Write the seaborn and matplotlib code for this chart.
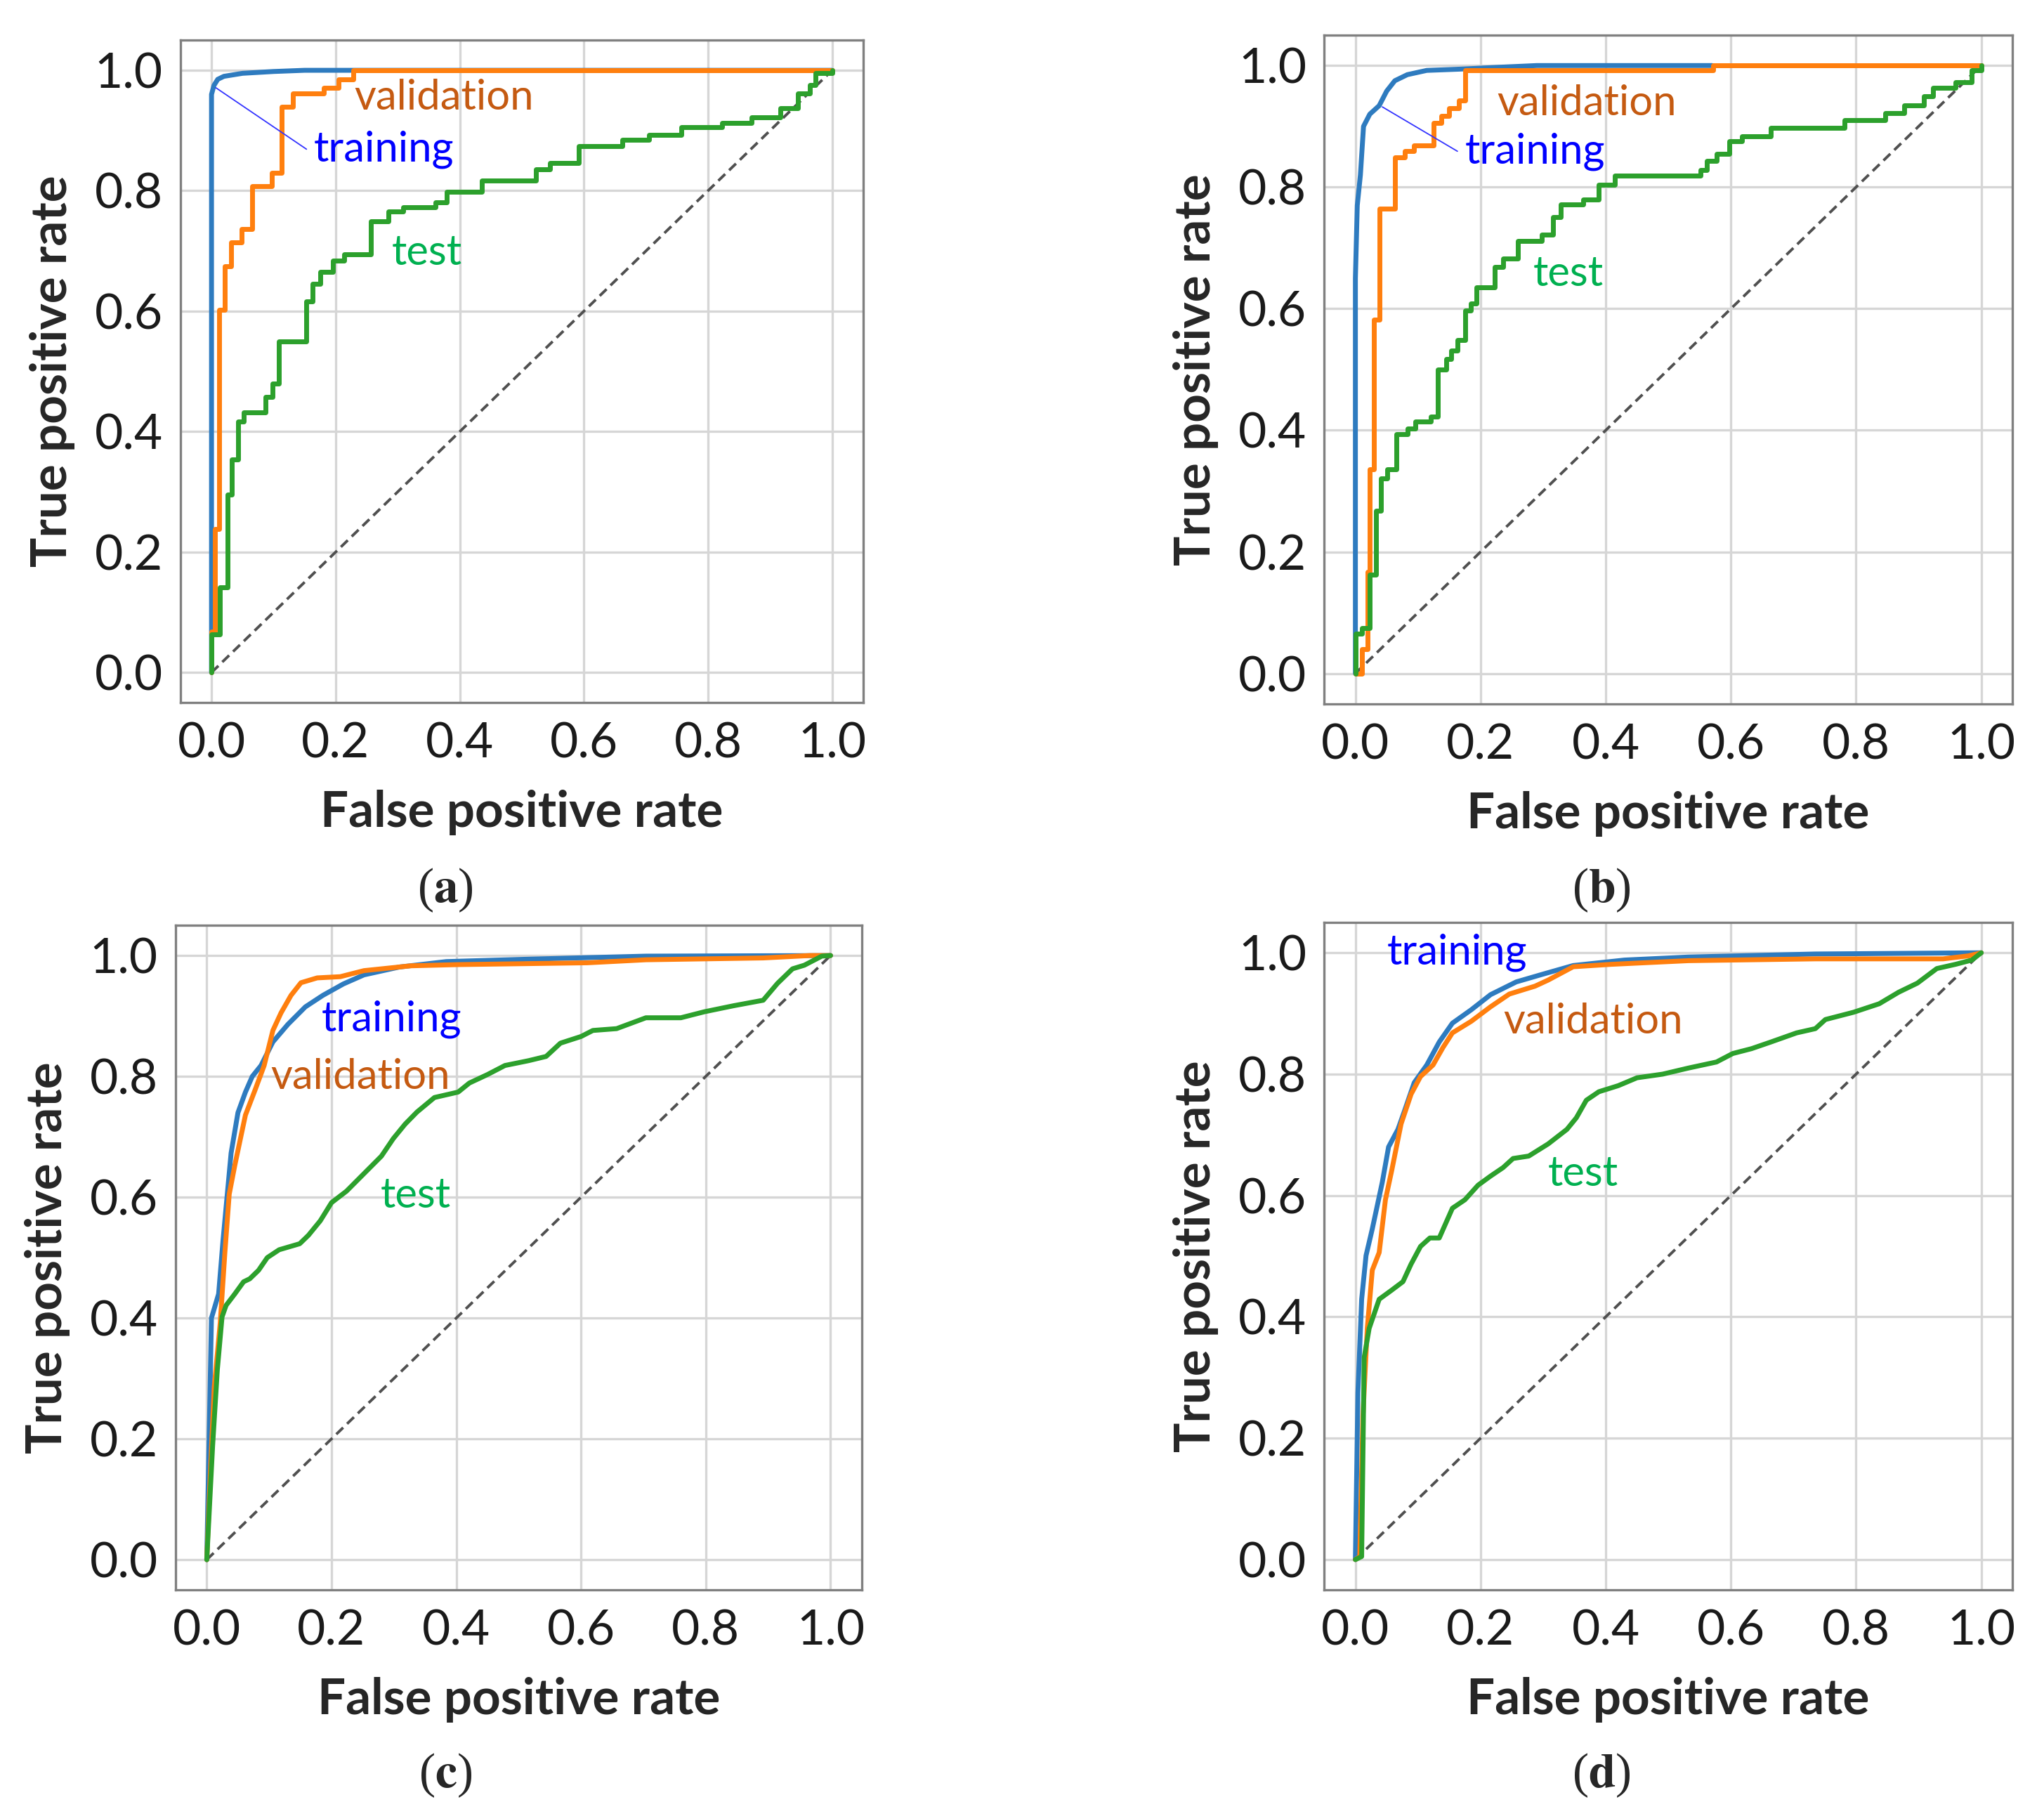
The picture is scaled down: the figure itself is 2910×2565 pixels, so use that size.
import matplotlib
matplotlib.use("Agg")
import matplotlib.pyplot as plt
import seaborn as sns

# --- Data ---
# (a) step curves: points where the curve jumps up (steps-post)
a_train_fpr = [0.0, 0.0, 0.004, 0.01, 0.02, 0.05, 0.10, 0.15, 1.0]
a_train_tpr = [0.0, 0.96, 0.975, 0.985, 0.99, 0.995, 0.998, 1.0, 1.0]
a_val_fpr = [0.0, 0.0, 0.005, 0.012, 0.021, 0.031, 0.049, 0.066, 0.097, 0.113,
             0.131, 0.181, 0.205, 0.229, 1.0]
a_val_tpr = [0.0, 0.068, 0.238, 0.602, 0.675, 0.714, 0.736, 0.808, 0.83, 0.939,
             0.962, 0.971, 0.985, 1.0, 1.0]
a_test_fpr = [0.0, 0.0, 0.013, 0.026, 0.033, 0.043, 0.052, 0.087, 0.098, 0.109,
              0.153, 0.163, 0.175, 0.196, 0.214, 0.257, 0.285, 0.309, 0.361,
              0.379, 0.436, 0.523, 0.545, 0.592, 0.662, 0.705, 0.757, 0.823,
              0.87, 0.917, 0.945, 0.964, 0.973, 1.0]
a_test_tpr = [0.0, 0.063, 0.142, 0.296, 0.354, 0.417, 0.432, 0.458, 0.48, 0.55,
              0.616, 0.645, 0.665, 0.684, 0.694, 0.749, 0.765, 0.772, 0.781,
              0.798, 0.817, 0.835, 0.846, 0.874, 0.885, 0.893, 0.905, 0.913,
              0.922, 0.937, 0.962, 0.976, 0.995, 1.0]

# (b)
b_train_fpr = [0.0, 0.0, 0.003, 0.008, 0.013, 0.023, 0.038, 0.05, 0.063, 0.083,
               0.114, 0.165, 0.226, 0.29, 0.57]
b_train_tpr = [0.0, 0.65, 0.77, 0.82, 0.9, 0.92, 0.934, 0.958, 0.975, 0.985,
               0.992, 0.994, 0.997, 1.0, 1.0]
b_val_fpr = [0.0, 0.01, 0.02, 0.023, 0.03, 0.038, 0.063, 0.079, 0.094, 0.125,
             0.137, 0.15, 0.165, 0.175, 0.572, 1.0]
b_val_tpr = [0.0, 0.04, 0.167, 0.336, 0.582, 0.765, 0.849, 0.859, 0.869, 0.905,
             0.917, 0.93, 0.942, 0.992, 1.0, 1.0]
b_test_fpr = [0.0, 0.0, 0.01, 0.023, 0.033, 0.041, 0.051, 0.065, 0.084, 0.096,
              0.12, 0.132, 0.145, 0.153, 0.163, 0.176, 0.184, 0.194, 0.223,
              0.236, 0.26, 0.298, 0.316, 0.328, 0.364, 0.389, 0.414, 0.552,
              0.562, 0.577, 0.598, 0.618, 0.664, 0.781, 0.847, 0.877, 0.908,
              0.923, 0.959, 0.985, 1.0]
b_test_tpr = [0.0, 0.066, 0.075, 0.162, 0.268, 0.321, 0.336, 0.394, 0.403, 0.415,
              0.423, 0.5, 0.517, 0.531, 0.548, 0.597, 0.608, 0.635, 0.669,
              0.683, 0.712, 0.722, 0.751, 0.772, 0.78, 0.804, 0.819, 0.828,
              0.843, 0.855, 0.875, 0.884, 0.898, 0.91, 0.922, 0.934, 0.949,
              0.963, 0.973, 0.992, 1.0]

# (c) smooth-ish curves
c_train_fpr = [0.0, 0.0075, 0.019, 0.026, 0.039, 0.05, 0.062, 0.073, 0.087, 0.106,
               0.13, 0.158, 0.186, 0.219, 0.252, 0.309, 0.384, 0.516, 0.704, 1.0]
c_train_tpr = [0.0, 0.40, 0.44, 0.528, 0.673, 0.74, 0.774, 0.80, 0.818, 0.857,
               0.886, 0.915, 0.934, 0.953, 0.968, 0.981, 0.99, 0.994, 0.999, 1.0]
c_val_fpr = [0.0, 0.0056, 0.012, 0.0216, 0.029, 0.036, 0.045, 0.055, 0.062, 0.078,
             0.092, 0.106, 0.119, 0.135, 0.151, 0.177, 0.214, 0.252, 0.327,
             0.403, 0.61, 0.704, 0.892, 0.967, 1.0]
c_val_tpr = [0.0, 0.14, 0.286, 0.392, 0.508, 0.605, 0.653, 0.702, 0.736, 0.779,
             0.818, 0.876, 0.905, 0.934, 0.955, 0.963, 0.965, 0.975, 0.983,
             0.985, 0.988, 0.993, 0.996, 1.0, 1.0]
c_test_fpr = [0.0, 0.0094, 0.017, 0.0245, 0.031, 0.045, 0.059, 0.069, 0.083, 0.097,
              0.116, 0.149, 0.163, 0.182, 0.2, 0.224, 0.252, 0.28, 0.299, 0.318,
              0.337, 0.365, 0.403, 0.421, 0.45, 0.478, 0.516, 0.544, 0.567, 0.6,
              0.619, 0.657, 0.704, 0.76, 0.798, 0.845, 0.892, 0.915, 0.939,
              0.958, 0.986, 1.0]
c_test_tpr = [0.0, 0.189, 0.315, 0.402, 0.421, 0.44, 0.46, 0.465, 0.479, 0.5,
              0.513, 0.523, 0.537, 0.561, 0.591, 0.61, 0.639, 0.668, 0.697, 0.721,
              0.741, 0.765, 0.774, 0.789, 0.803, 0.818, 0.826, 0.833, 0.855, 0.866,
              0.876, 0.879, 0.897, 0.897, 0.907, 0.917, 0.926, 0.954, 0.978,
              0.984, 0.999, 1.0]

# (d)
d_train_fpr = [0.0, 0.004, 0.010, 0.017, 0.027, 0.043, 0.053, 0.068, 0.078, 0.094,
               0.114, 0.134, 0.155, 0.185, 0.216, 0.257, 0.297, 0.348, 0.43, 0.532,
               0.735, 1.0]
d_train_tpr = [0.0, 0.275, 0.429, 0.501, 0.545, 0.622, 0.68, 0.709, 0.738, 0.786,
               0.815, 0.853, 0.884, 0.906, 0.931, 0.952, 0.964, 0.979, 0.988, 0.993,
               0.998, 1.0]
d_val_fpr = [0.0, 0.007, 0.012, 0.019, 0.027, 0.038, 0.048, 0.058, 0.073, 0.089,
             0.104, 0.124, 0.14, 0.155, 0.185, 0.216, 0.246, 0.287, 0.308, 0.348,
             0.409, 0.532, 0.735, 0.939, 0.98, 1.0]
d_val_tpr = [0.0, 0.005, 0.236, 0.381, 0.477, 0.506, 0.593, 0.641, 0.718, 0.767,
             0.796, 0.815, 0.844, 0.868, 0.887, 0.911, 0.932, 0.945, 0.955, 0.977,
             0.981, 0.987, 0.99, 0.99, 0.995, 1.0]
d_test_fpr = [0.0, 0.01, 0.014, 0.022, 0.038, 0.058, 0.076, 0.089, 0.104, 0.119,
              0.134, 0.155, 0.175, 0.196, 0.216, 0.236, 0.252, 0.277, 0.308, 0.338,
              0.353, 0.369, 0.389, 0.42, 0.45, 0.491, 0.532, 0.577, 0.603, 0.633,
              0.664, 0.705, 0.735, 0.751, 0.796, 0.837, 0.868, 0.898, 0.929,
              0.959, 0.985, 1.0]
d_test_tpr = [0.0, 0.005, 0.333, 0.381, 0.429, 0.444, 0.458, 0.487, 0.516, 0.53,
              0.53, 0.579, 0.593, 0.617, 0.632, 0.646, 0.661, 0.665, 0.685, 0.709,
              0.728, 0.757, 0.771, 0.781, 0.794, 0.80, 0.81, 0.82, 0.834, 0.842,
              0.853, 0.868, 0.875, 0.89, 0.902, 0.916, 0.935, 0.95, 0.974,
              0.981, 0.988, 1.0]

panel_names = ["a", "b", "c", "d"]
label_pos = {
    "a": {"validation": (0.23, 0.955), "training": (0.165, 0.869), "test": (0.29, 0.697)},
    "b": {"validation": (0.226, 0.938), "training": (0.175, 0.859), "test": (0.284, 0.657)},
    "c": {"validation": (0.102, 0.799), "training": (0.184, 0.895), "test": (0.278, 0.603)},
    "d": {"validation": (0.236, 0.887), "training": (0.051, 1.0), "test": (0.308, 0.636)},
}
pointer_to = {"a": (0.007, 0.971), "b": (0.043, 0.932)}

# --- Style ---
sns.set_style("whitegrid")
plt.rcParams['font.family'] = ['Lato', 'DejaVu Sans']
plt.rcParams['mathtext.fontset'] = 'stix'

LINE_COLORS = {"training": "#2e7bbf", "validation": "#ff7f0e", "test": "#2ca02c"}
TEXT_COLORS = {"training": "#0000ff", "validation": "#c55a11", "test": "#00b050"}

curves = {
    "a": [(a_train_fpr, a_train_tpr, "training", None),
          (a_val_fpr, a_val_tpr, "validation", "steps-post"),
          (a_test_fpr, a_test_tpr, "test", "steps-post")],
    "b": [(b_train_fpr, b_train_tpr, "training", None),
          (b_val_fpr, b_val_tpr, "validation", "steps-post"),
          (b_test_fpr, b_test_tpr, "test", "steps-post")],
    "c": [(c_train_fpr, c_train_tpr, "training", None),
          (c_val_fpr, c_val_tpr, "validation", None),
          (c_test_fpr, c_test_tpr, "test", None)],
    "d": [(d_train_fpr, d_train_tpr, "training", None),
          (d_val_fpr, d_val_tpr, "validation", None),
          (d_test_fpr, d_test_tpr, "test", None)],
}

fig = plt.figure(figsize=(29.1, 25.65), dpi=100)
axes_rects = {
    "a": [0.0883, 0.6101, 0.3340, 0.3676],
    "b": [0.6478, 0.6094, 0.3368, 0.3711],
    "c": [0.0859, 0.1177, 0.3357, 0.3688],
    "d": [0.6478, 0.1177, 0.3368, 0.3704],
}
caption_xy = {"a": (0.218, 0.506), "b": (0.7835, 0.506), "c": (0.218, 0.0148), "d": (0.7835, 0.0148)}

for name in panel_names:
    ax = fig.add_axes(axes_rects[name])
    # diagonal reference
    ax.plot([0, 1], [0, 1], ls=(0, (3.5, 2)), color="#505050", lw=2.8, zorder=1)
    for fpr, tpr, kind, ds in curves[name]:
        kw = {"drawstyle": ds} if ds else {}
        sns.lineplot(x=fpr, y=tpr, ax=ax, sort=False, estimator=None,
                     color=LINE_COLORS[kind], lw=5, zorder=3, **kw)
    for kind, (tx, ty) in label_pos[name].items():
        ax.text(tx, ty, kind, color=TEXT_COLORS[kind], fontsize=43,
                ha="left", va="center", zorder=5)
    if name in pointer_to:
        tx, ty = label_pos[name]["training"]
        ax.annotate("", xy=pointer_to[name], xytext=(tx - 0.012, ty),
                    arrowprops=dict(arrowstyle="-", color="#3333ff", lw=1.3,
                                    shrinkA=0, shrinkB=0), zorder=4)

    ax.set_xlim(-0.05, 1.05)
    ax.set_ylim(-0.05, 1.05)
    ticks = [0.0, 0.2, 0.4, 0.6, 0.8, 1.0]
    ax.set_xticks(ticks)
    ax.set_yticks(ticks)
    ax.set_xticklabels([f"{t:.1f}" for t in ticks])
    ax.set_yticklabels([f"{t:.1f}" for t in ticks])
    ax.tick_params(axis="both", length=0, labelsize=50, colors="#1a1a1a")
    ax.tick_params(axis="x", pad=20)
    ax.tick_params(axis="y", pad=18)
    ax.grid(True, color="#d6d6d6", lw=2.4)
    for sp in ax.spines.values():
        sp.set_color("#808080")
        sp.set_linewidth(2.4)
    ax.set_xlabel("False positive rate", fontsize=51, fontweight="bold", labelpad=24)
    ax.set_ylabel("True positive rate", fontsize=51, fontweight="bold", labelpad=20)

    cx, cy = caption_xy[name]
    fig.text(cx, cy, r"($\mathbf{" + name + r"}$)", fontsize=50,
             family=["Liberation Serif", "DejaVu Serif"], ha="center", va="center")

fig.savefig("out.png", dpi=100)
